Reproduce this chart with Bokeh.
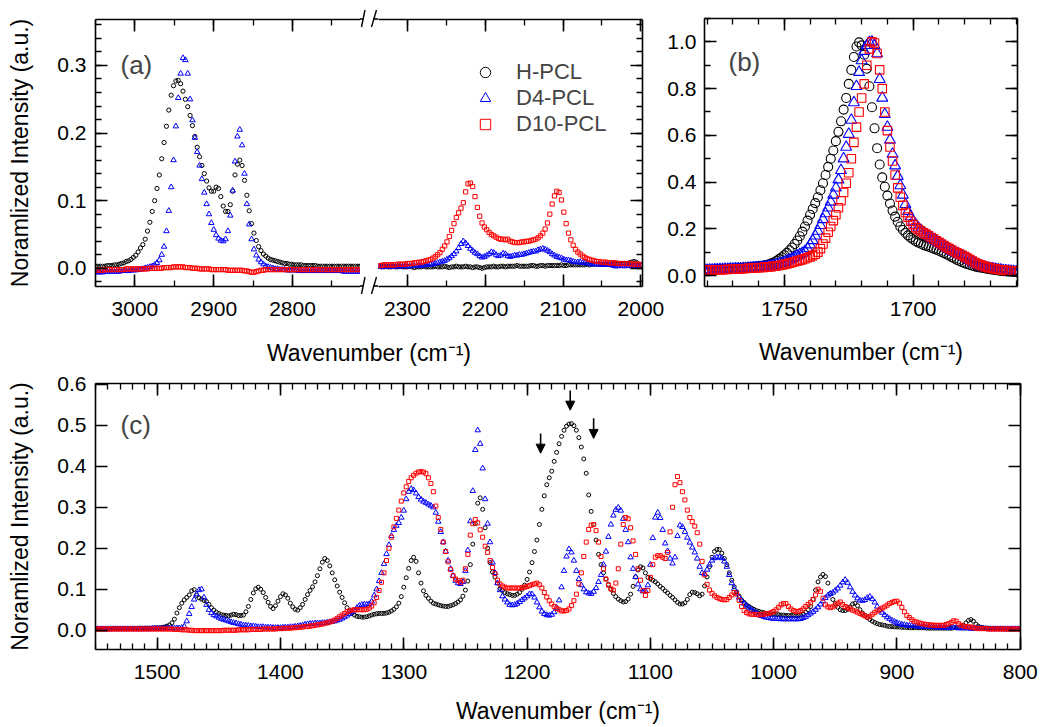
from bokeh.plotting import figure
from bokeh.layouts import row, column
from bokeh.models import (Range1d, LinearAxis, SingleIntervalTicker, NumeralTickFormatter,
                          CustomJSTickFormatter, FixedTicker, Label, Legend, LegendItem,
                          Arrow, NormalHead, Div)
from bokeh.embed import file_html
from bokeh.resources import INLINE

FONT = "Liberation Sans"
series_names = ["H-PCL", "D4-PCL", "D10-PCL"]
series_colors = ["black", "#0000ff", "#ff0000"]
series_markers = ["circle", "triangle", "square"]

# ---------------- panel (a): C-H / C-D stretching, two wavenumber windows ----------------
wn_a_left = list(range(3050, 2710, -3))      # 3050 ... 2711
h_a_left = [
    0.003, 0.003, 0.003, 0.003, 0.003, 0.004, 0.004, 0.004, 0.005, 0.005,
    0.006, 0.007, 0.008, 0.010, 0.011, 0.013, 0.016, 0.019, 0.024, 0.030,
    0.035, 0.043, 0.055, 0.068, 0.084, 0.100, 0.118, 0.138, 0.162, 0.186,
    0.210, 0.234, 0.256, 0.270, 0.277, 0.278, 0.273, 0.262, 0.250, 0.239,
    0.226, 0.211, 0.195, 0.179, 0.165, 0.152, 0.140, 0.129, 0.119, 0.114,
    0.114, 0.120, 0.118, 0.106, 0.092, 0.084, 0.084, 0.094, 0.114, 0.138,
    0.154, 0.160, 0.152, 0.130, 0.108, 0.085, 0.066, 0.052, 0.041, 0.032,
    0.026, 0.021, 0.018, 0.015, 0.013, 0.012, 0.011, 0.010, 0.009, 0.008,
    0.007, 0.007, 0.006, 0.006, 0.005, 0.005, 0.005, 0.005, 0.004, 0.004,
    0.004, 0.004, 0.004, 0.004, 0.003, 0.003, 0.003, 0.003, 0.003, 0.003,
    0.003, 0.003, 0.003, 0.003, 0.003, 0.003, 0.003, 0.003, 0.003, 0.003,
    0.003, 0.003, 0.003, 0.003]
d4_a_left = [
    -0.006, -0.006, -0.006, -0.006, -0.005, -0.005, -0.005, -0.005, -0.005, -0.005,
    -0.005, -0.004, -0.004, -0.004, -0.004, -0.003, -0.003, -0.003, -0.002, -0.002,
    -0.001, 0.000, 0.001, 0.002, 0.003, 0.005, 0.008, 0.012, 0.020, 0.032,
    0.055, 0.085, 0.120, 0.160, 0.210, 0.252, 0.288, 0.311, 0.308, 0.288,
    0.250, 0.219, 0.193, 0.172, 0.152, 0.132, 0.112, 0.095, 0.080, 0.067,
    0.057, 0.049, 0.044, 0.041, 0.040, 0.043, 0.055, 0.078, 0.115, 0.158,
    0.195, 0.205, 0.182, 0.140, 0.095, 0.065, 0.043, 0.028, 0.019, 0.013,
    0.009, 0.006, 0.003, 0.002, 0.001, 0.000, -0.001, -0.001, -0.002, -0.002,
    -0.002, -0.003, -0.003, -0.003, -0.003, -0.003, -0.004, -0.004, -0.004, -0.004,
    -0.004, -0.004, -0.004, -0.004, -0.004, -0.004, -0.004, -0.004, -0.004, -0.004,
    -0.004, -0.004, -0.004, -0.004, -0.004, -0.005, -0.005, -0.005, -0.005, -0.005,
    -0.005, -0.005, -0.005, -0.005]
d10_a_left = [
    -0.003, -0.003, -0.003, -0.003, -0.002, -0.002, -0.002, -0.002, -0.002, -0.002,
    -0.002, -0.002, -0.002, -0.001, -0.001, -0.001, -0.001, -0.001, -0.001, -0.001,
    -0.001, -0.001, -0.001, 0.000, 0.000, 0.000, 0.000, 0.000, 0.000, 0.001,
    0.001, 0.001, 0.001, 0.002, 0.002, 0.002, 0.002, 0.002, 0.001, 0.001,
    0.001, 0.000, 0.000, 0.000, -0.001, -0.001, -0.001, -0.001, -0.001, -0.002,
    -0.002, -0.002, -0.002, -0.002, -0.002, -0.002, -0.003, -0.003, -0.003, -0.003,
    -0.003, -0.003, -0.003, -0.004, -0.004, -0.005, -0.006, -0.006, -0.005, -0.004,
    -0.003, -0.003, -0.002, -0.002, -0.002, -0.002, -0.002, -0.002, -0.002, -0.002,
    -0.002, -0.002, -0.002, -0.002, -0.002, -0.002, -0.002, -0.002, -0.002, -0.002,
    -0.002, -0.002, -0.002, -0.002, -0.002, -0.002, -0.002, -0.002, -0.002, -0.002,
    -0.002, -0.002, -0.002, -0.002, -0.002, -0.002, -0.002, -0.002, -0.002, -0.002,
    -0.002, -0.002, -0.002, -0.002]

wn_a_right = list(range(2345, 1999, -3))     # 2345 ... 2000
h_a_right = [
    0.003, 0.003, 0.002, 0.003, 0.002, 0.002, 0.003, 0.002, 0.002, 0.003,
    0.002, 0.002, 0.003, 0.002, 0.002, 0.002, 0.003, 0.002, 0.001, 0.002,
    0.002, 0.002, 0.003, 0.002, 0.002, 0.002, 0.002, 0.003, 0.002, 0.002,
    0.002, 0.003, 0.002, 0.001, 0.002, 0.002, 0.003, 0.002, 0.002, 0.002,
    0.003, 0.002, 0.002, 0.001, 0.002, 0.002, 0.001, 0.000, 0.001, 0.002,
    0.002, 0.002, 0.003, 0.002, 0.002, 0.003, 0.003, 0.002, 0.003, 0.003,
    0.003, 0.003, 0.004, 0.003, 0.003, 0.003, 0.003, 0.003, 0.004, 0.004,
    0.003, 0.003, 0.004, 0.004, 0.003, 0.004, 0.004, 0.004, 0.004, 0.004,
    0.004, 0.005, 0.004, 0.004, 0.005, 0.005, 0.005, 0.005, 0.005, 0.005,
    0.005, 0.005, 0.006, 0.005, 0.006, 0.006, 0.006, 0.006, 0.006, 0.006,
    0.006, 0.006, 0.006, 0.007, 0.006, 0.006, 0.007, 0.007, 0.007, 0.007,
    0.008, 0.009, 0.010, 0.009, 0.006, 0.005]
d4_a_right = [
    0.0015, 0.0015, 0.002, 0.002, 0.002, 0.002, 0.002, 0.002, 0.0025, 0.0025,
    0.0025, 0.003, 0.003, 0.003, 0.003, 0.003, 0.003, 0.0035, 0.0035, 0.004,
    0.004, 0.004, 0.0045, 0.005, 0.005, 0.006, 0.006, 0.007, 0.008, 0.009,
    0.010, 0.011, 0.013, 0.015, 0.018, 0.021, 0.025, 0.030, 0.036, 0.040,
    0.037, 0.033, 0.029, 0.026, 0.023, 0.021, 0.018, 0.016, 0.017, 0.019,
    0.021, 0.024, 0.023, 0.020, 0.018, 0.019, 0.022, 0.021, 0.018, 0.017,
    0.018, 0.019, 0.019, 0.020, 0.020, 0.021, 0.022, 0.023, 0.024, 0.025,
    0.025, 0.027, 0.028, 0.029, 0.028, 0.026, 0.024, 0.021, 0.019, 0.017,
    0.016, 0.015, 0.013, 0.012, 0.012, 0.011, 0.010, 0.009, 0.009, 0.009,
    0.008, 0.008, 0.007, 0.007, 0.006, 0.006, 0.006, 0.006, 0.005, 0.006,
    0.005, 0.006, 0.005, 0.004, 0.003, 0.003, 0.004, 0.004, 0.003, 0.004,
    0.004, 0.003, 0.003, 0.003, 0.003, 0.004]
d10_a_right = [
    0.004, 0.004, 0.004, 0.004, 0.004, 0.005, 0.005, 0.005, 0.005, 0.005,
    0.005, 0.006, 0.006, 0.006, 0.006, 0.007, 0.007, 0.007, 0.008, 0.008,
    0.009, 0.009, 0.010, 0.011, 0.012, 0.013, 0.015, 0.017, 0.020, 0.023,
    0.028, 0.033, 0.039, 0.047, 0.056, 0.066, 0.075, 0.082, 0.089, 0.097,
    0.113, 0.125, 0.126, 0.121, 0.106, 0.090, 0.077, 0.067, 0.061, 0.057,
    0.053, 0.050, 0.048, 0.046, 0.044, 0.043, 0.043, 0.042, 0.043, 0.040,
    0.039, 0.038, 0.038, 0.038, 0.039, 0.039, 0.040, 0.040, 0.041, 0.042,
    0.043, 0.045, 0.048, 0.052, 0.058, 0.067, 0.080, 0.095, 0.107, 0.114,
    0.112, 0.101, 0.083, 0.066, 0.052, 0.042, 0.034, 0.028, 0.024, 0.021,
    0.018, 0.016, 0.014, 0.013, 0.012, 0.011, 0.010, 0.010, 0.009, 0.009,
    0.009, 0.008, 0.008, 0.008, 0.008, 0.007, 0.007, 0.007, 0.007, 0.007,
    0.007, 0.006, 0.006, 0.006, 0.006, 0.005]

# ---------------- panel (b): carbonyl band, normalised ----------------
wn_b = list(range(1781, 1658, -1))           # 1781 ... 1659
h_b = [
    0.024, 0.024, 0.025, 0.025, 0.026, 0.026, 0.027, 0.027, 0.028, 0.028,
    0.029, 0.030, 0.030, 0.031, 0.032, 0.033, 0.034, 0.035, 0.036, 0.037,
    0.038, 0.039, 0.041, 0.043, 0.045, 0.048, 0.052, 0.057, 0.063, 0.070,
    0.078, 0.087, 0.097, 0.108, 0.120, 0.135, 0.150, 0.168, 0.188, 0.210,
    0.235, 0.260, 0.285, 0.310, 0.335, 0.365, 0.395, 0.430, 0.465, 0.500,
    0.535, 0.575, 0.615, 0.660, 0.710, 0.760, 0.820, 0.880, 0.935, 0.980,
    0.998, 0.985, 0.945, 0.885, 0.810, 0.720, 0.630, 0.545, 0.475, 0.420,
    0.380, 0.342, 0.308, 0.278, 0.252, 0.230, 0.210, 0.195, 0.183, 0.172,
    0.162, 0.154, 0.147, 0.141, 0.136, 0.131, 0.127, 0.123, 0.119, 0.115,
    0.111, 0.106, 0.101, 0.096, 0.090, 0.085, 0.079, 0.073, 0.067, 0.062,
    0.057, 0.053, 0.049, 0.045, 0.042, 0.039, 0.036, 0.034, 0.032, 0.030,
    0.028, 0.026, 0.025, 0.023, 0.022, 0.020, 0.019, 0.018, 0.017, 0.016,
    0.015, 0.014, 0.013]
d4_b = [
    0.023, 0.023, 0.024, 0.024, 0.025, 0.025, 0.026, 0.026, 0.027, 0.027,
    0.028, 0.028, 0.029, 0.029, 0.030, 0.031, 0.031, 0.032, 0.033, 0.034,
    0.034, 0.035, 0.036, 0.037, 0.038, 0.040, 0.042, 0.044, 0.047, 0.050,
    0.053, 0.057, 0.062, 0.067, 0.072, 0.078, 0.084, 0.090, 0.096, 0.103,
    0.115, 0.132, 0.150, 0.170, 0.190, 0.215, 0.240, 0.265, 0.290, 0.315,
    0.345, 0.375, 0.410, 0.450, 0.500, 0.550, 0.605, 0.665, 0.740, 0.810,
    0.870, 0.920, 0.960, 0.985, 0.998, 1.000, 0.985, 0.950, 0.840, 0.760,
    0.690, 0.635, 0.580, 0.520, 0.470, 0.425, 0.385, 0.345, 0.305, 0.275,
    0.252, 0.233, 0.217, 0.204, 0.193, 0.184, 0.176, 0.168, 0.161, 0.154,
    0.147, 0.140, 0.133, 0.126, 0.119, 0.112, 0.105, 0.099, 0.094, 0.090,
    0.085, 0.079, 0.072, 0.065, 0.058, 0.052, 0.047, 0.043, 0.039, 0.036,
    0.033, 0.031, 0.029, 0.027, 0.025, 0.024, 0.022, 0.021, 0.020, 0.019,
    0.018, 0.017, 0.016]
d10_b = [
    0.023, 0.023, 0.023, 0.024, 0.024, 0.025, 0.025, 0.025, 0.026, 0.026,
    0.027, 0.027, 0.028, 0.028, 0.029, 0.029, 0.030, 0.031, 0.031, 0.032,
    0.033, 0.033, 0.034, 0.035, 0.036, 0.037, 0.038, 0.040, 0.041, 0.043,
    0.045, 0.047, 0.050, 0.053, 0.056, 0.059, 0.062, 0.065, 0.068, 0.072,
    0.076, 0.080, 0.085, 0.091, 0.100, 0.115, 0.135, 0.160, 0.185, 0.210,
    0.235, 0.260, 0.290, 0.320, 0.355, 0.395, 0.440, 0.500, 0.570, 0.635,
    0.700, 0.760, 0.820, 0.900, 0.970, 1.000, 0.995, 0.950, 0.880, 0.800,
    0.700, 0.620, 0.550, 0.490, 0.430, 0.375, 0.335, 0.300, 0.270, 0.250,
    0.232, 0.218, 0.205, 0.197, 0.190, 0.183, 0.177, 0.170, 0.163, 0.156,
    0.149, 0.142, 0.135, 0.128, 0.121, 0.115, 0.109, 0.103, 0.097, 0.092,
    0.087, 0.081, 0.075, 0.068, 0.062, 0.056, 0.050, 0.046, 0.042, 0.038,
    0.035, 0.032, 0.030, 0.028, 0.026, 0.025, 0.023, 0.022, 0.021, 0.020,
    0.019, 0.018, 0.017]

# ---------------- panel (c): fingerprint region ----------------
wn_c = list(range(1550, 799, -2))            # 1550 ... 800
h_c = [
    0.003, 0.003, 0.003, 0.003, 0.003, 0.003, 0.003, 0.004, 0.004, 0.004,
    0.004, 0.004, 0.004, 0.004, 0.004, 0.004, 0.004, 0.004, 0.005, 0.005,
    0.005, 0.005, 0.005, 0.005, 0.006, 0.006, 0.006, 0.007, 0.008, 0.010,
    0.013, 0.018, 0.027, 0.042, 0.055, 0.066, 0.074, 0.080, 0.086, 0.096,
    0.099, 0.085, 0.079, 0.076, 0.073, 0.070, 0.063, 0.055, 0.049, 0.044,
    0.041, 0.038, 0.037, 0.036, 0.035, 0.037, 0.039, 0.038, 0.036, 0.036,
    0.037, 0.045, 0.058, 0.075, 0.091, 0.101, 0.105, 0.100, 0.092, 0.080,
    0.068, 0.058, 0.053, 0.060, 0.071, 0.082, 0.089, 0.086, 0.078, 0.066,
    0.057, 0.051, 0.049, 0.055, 0.063, 0.075, 0.087, 0.097, 0.106, 0.118,
    0.133, 0.150, 0.166, 0.175, 0.170, 0.157, 0.140, 0.123, 0.108, 0.093,
    0.080, 0.067, 0.055, 0.047, 0.041, 0.037, 0.034, 0.033, 0.032, 0.032,
    0.033, 0.035, 0.037, 0.039, 0.040, 0.041, 0.041, 0.041, 0.042, 0.044,
    0.047, 0.051, 0.057, 0.066, 0.082, 0.105, 0.128, 0.151, 0.170, 0.178,
    0.168, 0.140, 0.115, 0.096, 0.085, 0.078, 0.071, 0.066, 0.064, 0.062,
    0.060, 0.059, 0.058, 0.058, 0.060, 0.062, 0.065, 0.069, 0.074, 0.083,
    0.098, 0.120, 0.160, 0.210, 0.260, 0.310, 0.323, 0.295, 0.250, 0.200,
    0.165, 0.142, 0.130, 0.115, 0.102, 0.097, 0.092, 0.089, 0.087, 0.085,
    0.085, 0.088, 0.092, 0.100, 0.110, 0.124, 0.142, 0.165, 0.192, 0.220,
    0.258, 0.295, 0.328, 0.355, 0.372, 0.388, 0.412, 0.434, 0.455, 0.473,
    0.488, 0.498, 0.503, 0.504, 0.499, 0.488, 0.470, 0.447, 0.418, 0.383,
    0.330, 0.290, 0.258, 0.220, 0.185, 0.160, 0.140, 0.125, 0.112, 0.100,
    0.090, 0.082, 0.076, 0.072, 0.069, 0.070, 0.076, 0.088, 0.107, 0.130,
    0.147, 0.155, 0.152, 0.140, 0.129, 0.125, 0.122, 0.118, 0.113, 0.107,
    0.102, 0.096, 0.091, 0.085, 0.080, 0.074, 0.068, 0.064, 0.064, 0.067,
    0.075, 0.087, 0.093, 0.092, 0.089, 0.084, 0.088, 0.108, 0.130, 0.155,
    0.178, 0.192, 0.197, 0.197, 0.188, 0.175, 0.160, 0.140, 0.122, 0.106,
    0.094, 0.083, 0.074, 0.068, 0.062, 0.058, 0.054, 0.051, 0.048, 0.046,
    0.044, 0.043, 0.041, 0.040, 0.039, 0.039, 0.038, 0.038, 0.037, 0.037,
    0.036, 0.036, 0.036, 0.036, 0.036, 0.036, 0.037, 0.039, 0.044, 0.050,
    0.058, 0.075, 0.098, 0.118, 0.130, 0.136, 0.131, 0.115, 0.090, 0.075,
    0.065, 0.056, 0.050, 0.048, 0.048, 0.051, 0.057, 0.064, 0.066, 0.060,
    0.050, 0.042, 0.036, 0.031, 0.026, 0.022, 0.019, 0.016, 0.014, 0.013,
    0.012, 0.010, 0.009, 0.009, 0.008, 0.008, 0.008, 0.007, 0.007, 0.007,
    0.006, 0.006, 0.006, 0.006, 0.006, 0.006, 0.006, 0.005, 0.005, 0.005,
    0.005, 0.005, 0.005, 0.005, 0.005, 0.005, 0.005, 0.005, 0.006, 0.006,
    0.007, 0.009, 0.012, 0.018, 0.024, 0.026, 0.022, 0.015, 0.010, 0.007,
    0.006, 0.005, 0.005, 0.004, 0.004, 0.004, 0.004, 0.004, 0.003, 0.003,
    0.003, 0.003, 0.003, 0.003, 0.003, 0.003]
d4_c = [
    0.003, 0.003, 0.003, 0.003, 0.003, 0.003, 0.003, 0.003, 0.003, 0.003,
    0.003, 0.003, 0.003, 0.003, 0.003, 0.003, 0.003, 0.003, 0.003, 0.003,
    0.003, 0.003, 0.003, 0.004, 0.004, 0.004, 0.004, 0.004, 0.005, 0.005,
    0.005, 0.005, 0.005, 0.005, 0.005, 0.006, 0.009, 0.022, 0.040, 0.057,
    0.075, 0.088, 0.098, 0.100, 0.080, 0.062, 0.050, 0.042, 0.037, 0.034,
    0.031, 0.028, 0.026, 0.024, 0.022, 0.020, 0.018, 0.017, 0.015, 0.014,
    0.012, 0.012, 0.011, 0.010, 0.010, 0.009, 0.008, 0.008, 0.008, 0.007,
    0.007, 0.007, 0.006, 0.006, 0.006, 0.006, 0.007, 0.007, 0.007, 0.008,
    0.008, 0.009, 0.010, 0.011, 0.012, 0.014, 0.015, 0.016, 0.016, 0.017,
    0.017, 0.017, 0.018, 0.018, 0.019, 0.020, 0.021, 0.022, 0.024, 0.026,
    0.029, 0.032, 0.036, 0.040, 0.045, 0.049, 0.055, 0.060, 0.062, 0.063,
    0.063, 0.064, 0.070, 0.085, 0.100, 0.120, 0.140, 0.162, 0.186, 0.208,
    0.230, 0.245, 0.255, 0.262, 0.275, 0.292, 0.320, 0.338, 0.345, 0.342,
    0.334, 0.325, 0.319, 0.314, 0.311, 0.307, 0.304, 0.300, 0.287, 0.265,
    0.240, 0.215, 0.192, 0.170, 0.150, 0.133, 0.121, 0.115, 0.113, 0.118,
    0.145, 0.195, 0.266, 0.340, 0.440, 0.488, 0.455, 0.395, 0.320, 0.260,
    0.215, 0.165, 0.140, 0.115, 0.098, 0.083, 0.075, 0.068, 0.062, 0.061,
    0.062, 0.065, 0.069, 0.074, 0.078, 0.083, 0.088, 0.088, 0.080, 0.068,
    0.056, 0.046, 0.040, 0.037, 0.036, 0.038, 0.044, 0.055, 0.073, 0.105,
    0.145, 0.180, 0.198, 0.190, 0.170, 0.145, 0.125, 0.110, 0.100, 0.093,
    0.090, 0.089, 0.094, 0.103, 0.118, 0.135, 0.160, 0.192, 0.228, 0.258,
    0.280, 0.294, 0.299, 0.292, 0.272, 0.245, 0.215, 0.178, 0.150, 0.130,
    0.112, 0.100, 0.095, 0.096, 0.110, 0.160, 0.225, 0.275, 0.287, 0.274,
    0.245, 0.212, 0.193, 0.175, 0.163, 0.178, 0.230, 0.256, 0.252, 0.240,
    0.226, 0.214, 0.202, 0.190, 0.175, 0.155, 0.140, 0.137, 0.148, 0.160,
    0.170, 0.176, 0.178, 0.178, 0.176, 0.168, 0.155, 0.135, 0.115, 0.101,
    0.090, 0.080, 0.072, 0.065, 0.060, 0.055, 0.050, 0.046, 0.042, 0.038,
    0.035, 0.033, 0.031, 0.030, 0.029, 0.028, 0.028, 0.028, 0.027, 0.027,
    0.027, 0.027, 0.027, 0.027, 0.027, 0.027, 0.028, 0.030, 0.033, 0.037,
    0.041, 0.045, 0.050, 0.056, 0.063, 0.071, 0.079, 0.085, 0.089, 0.092,
    0.097, 0.102, 0.109, 0.117, 0.123, 0.116, 0.105, 0.094, 0.085, 0.078,
    0.073, 0.072, 0.074, 0.079, 0.082, 0.076, 0.068, 0.058, 0.049, 0.043,
    0.037, 0.032, 0.028, 0.024, 0.021, 0.018, 0.016, 0.014, 0.013, 0.012,
    0.011, 0.011, 0.010, 0.010, 0.009, 0.009, 0.009, 0.008, 0.008, 0.008,
    0.008, 0.007, 0.007, 0.007, 0.007, 0.006, 0.006, 0.006, 0.006, 0.006,
    0.005, 0.005, 0.005, 0.005, 0.005, 0.004, 0.004, 0.004, 0.004, 0.004,
    0.004, 0.004, 0.003, 0.003, 0.003, 0.003, 0.003, 0.003, 0.003, 0.003,
    0.003, 0.003, 0.003, 0.003, 0.003, 0.003]
d10_c = [
    0.003, 0.003, 0.003, 0.003, 0.003, 0.003, 0.003, 0.003, 0.003, 0.003,
    0.003, 0.003, 0.003, 0.003, 0.003, 0.003, 0.003, 0.003, 0.003, 0.003,
    0.003, 0.003, 0.003, 0.003, 0.003, 0.003, 0.003, 0.003, 0.003, 0.003,
    0.003, 0.003, 0.002, 0.002, 0.002, 0.001, 0.001, 0.001, 0.000, 0.000,
    -0.001, -0.001, -0.001, -0.001, -0.001, -0.001, -0.001, -0.001, -0.001, -0.001,
    -0.001, -0.001, 0.000, 0.000, 0.000, 0.000, 0.000, 0.000, 0.001, 0.001,
    0.001, 0.001, 0.001, 0.002, 0.002, 0.002, 0.002, 0.002, 0.003, 0.003,
    0.003, 0.003, 0.003, 0.003, 0.004, 0.004, 0.004, 0.005, 0.005, 0.005,
    0.006, 0.006, 0.007, 0.007, 0.008, 0.009, 0.009, 0.010, 0.011, 0.012,
    0.013, 0.014, 0.015, 0.017, 0.018, 0.020, 0.022, 0.025, 0.029, 0.033,
    0.037, 0.041, 0.045, 0.047, 0.049, 0.050, 0.050, 0.050, 0.050, 0.050,
    0.051, 0.054, 0.059, 0.067, 0.080, 0.097, 0.117, 0.140, 0.170, 0.200,
    0.227, 0.252, 0.273, 0.293, 0.315, 0.335, 0.350, 0.363, 0.372, 0.378,
    0.383, 0.386, 0.387, 0.386, 0.382, 0.372, 0.358, 0.338, 0.303, 0.275,
    0.246, 0.215, 0.192, 0.167, 0.148, 0.133, 0.125, 0.121, 0.117, 0.122,
    0.150, 0.185, 0.232, 0.260, 0.270, 0.262, 0.245, 0.227, 0.205, 0.190,
    0.170, 0.153, 0.138, 0.122, 0.113, 0.108, 0.105, 0.103, 0.103, 0.103,
    0.103, 0.103, 0.103, 0.104, 0.105, 0.107, 0.109, 0.111, 0.113, 0.115,
    0.111, 0.103, 0.092, 0.081, 0.072, 0.064, 0.058, 0.053, 0.050, 0.047,
    0.047, 0.048, 0.052, 0.060, 0.072, 0.088, 0.113, 0.140, 0.180, 0.215,
    0.246, 0.256, 0.258, 0.243, 0.215, 0.180, 0.150, 0.125, 0.110, 0.101,
    0.098, 0.115, 0.150, 0.210, 0.258, 0.275, 0.272, 0.250, 0.218, 0.185,
    0.150, 0.122, 0.097, 0.085, 0.097, 0.129, 0.160, 0.178, 0.182, 0.182,
    0.178, 0.175, 0.190, 0.240, 0.300, 0.355, 0.375, 0.360, 0.338, 0.318,
    0.293, 0.275, 0.265, 0.254, 0.238, 0.210, 0.168, 0.135, 0.112, 0.098,
    0.090, 0.084, 0.080, 0.077, 0.075, 0.074, 0.075, 0.080, 0.086, 0.092,
    0.088, 0.073, 0.058, 0.048, 0.043, 0.040, 0.039, 0.039, 0.038, 0.038,
    0.038, 0.039, 0.040, 0.041, 0.043, 0.046, 0.050, 0.056, 0.062, 0.065,
    0.065, 0.058, 0.052, 0.048, 0.046, 0.046, 0.048, 0.052, 0.058, 0.063,
    0.068, 0.075, 0.086, 0.100, 0.095, 0.078, 0.062, 0.057, 0.055, 0.057,
    0.061, 0.066, 0.069, 0.063, 0.058, 0.055, 0.052, 0.049, 0.047, 0.044,
    0.041, 0.038, 0.035, 0.032, 0.034, 0.039, 0.043, 0.047, 0.050, 0.054,
    0.057, 0.061, 0.065, 0.068, 0.070, 0.071, 0.066, 0.056, 0.045, 0.036,
    0.031, 0.026, 0.022, 0.020, 0.018, 0.016, 0.015, 0.014, 0.013, 0.013,
    0.012, 0.012, 0.012, 0.012, 0.012, 0.014, 0.016, 0.019, 0.023, 0.022,
    0.016, 0.012, 0.010, 0.009, 0.008, 0.008, 0.006, 0.005, 0.004, 0.004,
    0.004, 0.004, 0.003, 0.003, 0.003, 0.003, 0.003, 0.003, 0.003, 0.003,
    0.003, 0.003, 0.003, 0.003, 0.003, 0.003]

# arrows in panel (c)
arrow_wn = [1189, 1165, 1146]
arrow_top = [0.480, 0.585, 0.517]
arrow_tip = [0.432, 0.537, 0.468]

# axis-break decoration, in pixels of the narrow strip between the two windows of (a)
break_lines = [(0, 19, 3, 19), (13, 19, 18, 19), (0, 286, 3, 286), (13, 286, 18, 286)]
break_slashes = [(1.5, 27, 5.0, 10), (11.5, 27, 16.5, 10), (1.5, 294, 5.0, 277), (11.5, 294, 16.5, 277)]


# ---------------- helpers ----------------
def style_axis(ax, ticker, labels=True, standoff=15, minor=True):
    ax.ticker = ticker
    ax.axis_line_color = "black"
    ax.axis_line_width = 1.6
    ax.major_tick_line_color = "black"
    ax.major_tick_line_width = 1.6
    ax.minor_tick_line_color = "black" if minor else None
    ax.minor_tick_line_width = 1.3
    ax.major_tick_in = 12
    ax.major_tick_out = 0
    ax.minor_tick_in = 6
    ax.minor_tick_out = 0
    ax.major_label_text_font = FONT
    ax.major_label_text_font_size = "21px"
    ax.major_label_text_color = "black"
    ax.major_label_standoff = standoff
    ax.axis_label_text_font = FONT
    ax.axis_label_text_font_size = "23px"
    ax.axis_label_text_font_style = "normal"
    ax.axis_label_text_color = "black"
    if not labels:
        ax.formatter = CustomJSTickFormatter(code="return ''")
        ax.major_label_text_font_size = "0px"
        ax.major_label_standoff = 0


def base_fig(**kw):
    p = figure(output_backend="svg", toolbar_location=None, outline_line_color=None,
               background_fill_color="white", border_fill_color="white", **kw)
    p.xgrid.visible = False
    p.ygrid.visible = False
    return p


def draw(p, x, ys, sizes, lw=1.0):
    rs = []
    for y, mk, col, sz in zip(ys, series_markers, series_colors, sizes):
        rs.append(p.scatter(x=x, y=y, marker=mk, size=sz, fill_color=None,
                            line_color=col, line_width=lw))
    return rs


Y_A = (-0.027, 0.368)

# ---- panel (a) left window ----
a1 = base_fig(width=360, height=324, x_range=Range1d(3050, 2713.8), y_range=Range1d(*Y_A),
              min_border_left=95, min_border_right=0, min_border_top=19, min_border_bottom=38)
draw(a1, wn_a_left, [h_a_left, d4_a_left, d10_a_left], [4.2, 5.5, 4.2])
style_axis(a1.xaxis[0], SingleIntervalTicker(interval=100, num_minor_ticks=2))
style_axis(a1.yaxis[0], SingleIntervalTicker(interval=0.1, num_minor_ticks=5), standoff=9)
a1.yaxis[0].formatter = NumeralTickFormatter(format="0.0")
a1.yaxis[0].axis_label = "Noramlized Intensity (a.u.)"
a1.yaxis[0].axis_label_standoff = 21
top_a1 = LinearAxis()
style_axis(top_a1, SingleIntervalTicker(interval=100, num_minor_ticks=2), labels=False)
a1.add_layout(top_a1, "above")
a1.add_layout(Label(x=25, y=222, x_units="screen", y_units="screen", text="(a)",
                    text_font=FONT, text_font_size="26px", text_baseline="middle"))

# ---- narrow strip carrying the axis-break marks ----
svg_parts = ['<svg xmlns="http://www.w3.org/2000/svg" width="18" height="324" style="display:block">']
for x0, y0, x1, y1 in break_lines:
    svg_parts.append(f'<line x1="{x0}" y1="{y0}" x2="{x1}" y2="{y1}" stroke="black" stroke-width="1.6"/>')
for x0, y0, x1, y1 in break_slashes:
    svg_parts.append(f'<line x1="{x0}" y1="{y0}" x2="{x1}" y2="{y1}" stroke="black" stroke-width="1.4"/>')
svg_parts.append('</svg>')
gap = Div(text="".join(svg_parts), width=18, height=324, margin=(0, 0, 0, 0),
          styles={"padding": "0", "margin": "0", "line-height": "0"})

# ---- panel (a) right window ----
a2 = base_fig(width=286, height=324, x_range=Range1d(2336.9, 1998), y_range=Range1d(*Y_A),
              y_axis_location="right",
              min_border_left=0, min_border_right=22, min_border_top=19, min_border_bottom=38)
ra2 = draw(a2, wn_a_right, [h_a_right, d4_a_right, d10_a_right], [4.2, 5.5, 4.2])
style_axis(a2.xaxis[0], SingleIntervalTicker(interval=100, num_minor_ticks=2))
style_axis(a2.yaxis[0], SingleIntervalTicker(interval=0.1, num_minor_ticks=5), labels=False)
top_a2 = LinearAxis()
style_axis(top_a2, SingleIntervalTicker(interval=100, num_minor_ticks=2), labels=False)
a2.add_layout(top_a2, "above")
legend = Legend(items=[LegendItem(label=n, renderers=[r]) for n, r in zip(series_names, ra2)],
                location=(94, 149), glyph_width=26, glyph_height=26, label_height=26,
                label_standoff=18, spacing=0, padding=0, margin=0,
                border_line_color=None, background_fill_alpha=0,
                label_text_font=FONT, label_text_font_size="22px")
a2.add_layout(legend)

# ---- shared x title of panel (a) ----
at = base_fig(width=664, height=48, x_range=Range1d(0, 1), y_range=Range1d(0, 1),
              min_border_left=95, min_border_right=22, min_border_top=0, min_border_bottom=46)
at.yaxis.visible = False
tax = at.xaxis[0]
tax.ticker = FixedTicker(ticks=[])
tax.axis_line_color = None
tax.major_tick_line_color = None
tax.minor_tick_line_color = None
tax.major_label_text_font_size = "0px"
tax.major_label_standoff = 0
tax.axis_label = "Wavenumber (cm\u207b\u00b9)"
tax.axis_label_text_font = FONT
tax.axis_label_text_font_size = "23px"
tax.axis_label_text_font_style = "normal"
tax.axis_label_text_color = "black"
tax.axis_label_standoff = 13

# ---- panel (b) ----
b = base_fig(width=376, height=372, x_range=Range1d(1781, 1659.5), y_range=Range1d(-0.047, 1.1),
             min_border_left=38, min_border_right=23, min_border_top=18, min_border_bottom=86)
draw(b, wn_b, [h_b, d4_b, d10_b], [9, 11, 8.5], lw=1.1)
style_axis(b.xaxis[0], SingleIntervalTicker(interval=50, num_minor_ticks=5))
b.xaxis[0].axis_label = "Wavenumber (cm\u207b\u00b9)"
b.xaxis[0].axis_label_standoff = 20
style_axis(b.yaxis[0], SingleIntervalTicker(interval=0.2, num_minor_ticks=2), standoff=8)
b.yaxis[0].formatter = NumeralTickFormatter(format="0.0")
tb = LinearAxis()
style_axis(tb, SingleIntervalTicker(interval=50, num_minor_ticks=5), labels=False)
b.add_layout(tb, "above")
rb = LinearAxis()
style_axis(rb, SingleIntervalTicker(interval=0.2, num_minor_ticks=2), labels=False)
b.add_layout(rb, "right")
b.add_layout(Label(x=24, y=225, x_units="screen", y_units="screen", text="(b)",
                   text_font=FONT, text_font_size="26px", text_baseline="middle"))

# ---- panel (c) ----
c = base_fig(width=1040, height=355, x_range=Range1d(1550, 799.8), y_range=Range1d(-0.047, 0.602),
             min_border_left=95, min_border_right=20, min_border_top=11, min_border_bottom=78)
draw(c, wn_c, [h_c, d4_c, d10_c], [4.0, 5.5, 4.0])
style_axis(c.xaxis[0], SingleIntervalTicker(interval=100, num_minor_ticks=10))
c.xaxis[0].axis_label = "Wavenumber (cm\u207b\u00b9)"
c.xaxis[0].axis_label_standoff = 16
style_axis(c.yaxis[0], SingleIntervalTicker(interval=0.1, num_minor_ticks=2), standoff=9, minor=False)
c.yaxis[0].formatter = NumeralTickFormatter(format="0.0")
c.yaxis[0].axis_label = "Noramlized Intensity (a.u.)"
c.yaxis[0].axis_label_standoff = 21
tc = LinearAxis()
style_axis(tc, SingleIntervalTicker(interval=100, num_minor_ticks=10), labels=False)
c.add_layout(tc, "above")
rc = LinearAxis()
style_axis(rc, SingleIntervalTicker(interval=0.1, num_minor_ticks=2), labels=False, minor=False)
c.add_layout(rc, "right")
c.add_layout(Label(x=25, y=225, x_units="screen", y_units="screen", text="(c)",
                   text_font=FONT, text_font_size="26px", text_baseline="middle"))
for xw, y0, y1 in zip(arrow_wn, arrow_top, arrow_tip):
    c.add_layout(Arrow(x_start=xw, y_start=y0, x_end=xw, y_end=y1, line_width=1.6,
                       line_color="black",
                       end=NormalHead(size=9, fill_color="black", line_color="black")))

layout = column(row(column(row(a1, gap, a2), at), b), c)
open("out.html", "w").write(file_html(layout, INLINE))
